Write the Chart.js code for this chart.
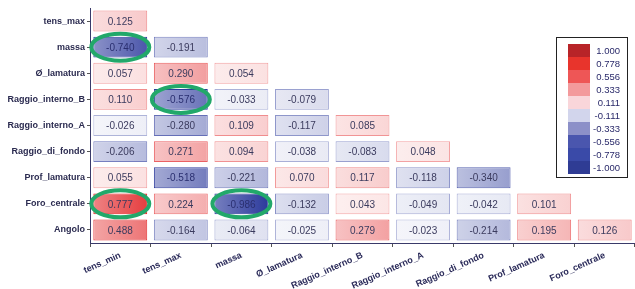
<!DOCTYPE html>
<html>
<head>
<meta charset="utf-8">
<script src="https://cdn.jsdelivr.net/npm/chart.js@4/dist/chart.umd.min.js"></script>
<style>
  html, body { margin: 0; padding: 0; background: #fff; }
  #wrap { width: 635px; height: 289px; position: relative; }
</style>
</head>
<body>
<div id="wrap"><canvas id="chart"></canvas></div>
<script>
// righe (asse y) e colonne (asse x) della matrice di correlazione
const rowLabels = ['tens_max', 'massa', 'Ø_lamatura', 'Raggio_interno_B', 'Raggio_interno_A',
  'Raggio_di_fondo', 'Prof_lamatura', 'Foro_centrale', 'Angolo'];
const colLabels = ['tens_min', 'tens_max', 'massa', 'Ø_lamatura', 'Raggio_interno_B',
  'Raggio_interno_A', 'Raggio_di_fondo', 'Prof_lamatura', 'Foro_centrale'];

const corrTensMax = [0.125];
const corrMassa = [-0.740, -0.191];
const corrLamatura = [0.057, 0.290, 0.054];
const corrRaggioB = [0.110, -0.576, -0.033, -0.079];
const corrRaggioA = [-0.026, -0.280, 0.109, -0.117, 0.085];
const corrRaggioFondo = [-0.206, 0.271, 0.094, -0.038, -0.083, 0.048];
const corrProf = [0.055, -0.518, -0.221, 0.070, 0.117, -0.118, -0.340];
const corrForo = [0.777, 0.224, -0.986, -0.132, 0.043, -0.049, -0.042, 0.101];
const corrAngolo = [0.488, -0.164, -0.064, -0.025, 0.279, -0.023, -0.214, 0.195, 0.126];
const corrRows = [corrTensMax, corrMassa, corrLamatura, corrRaggioB, corrRaggioA,
  corrRaggioFondo, corrProf, corrForo, corrAngolo];

// celle cerchiate in verde [riga, colonna]
const highlighted = [[1, 0], [3, 1], [7, 0], [7, 2]];

// legenda a scala di colori
const legendValues = ['1.000', '0.778', '0.556', '0.333', '0.111', '-0.111', '-0.333', '-0.556', '-0.778', '-1.000'];
const legendColors = ['#b82428', '#e8342c', '#ee5656', '#f39a9c', '#f9d6da', '#d2d5ec', '#8c90c8', '#4a56ae', '#3a4aa8', '#2f3c94'];

const RED = [226, 36, 38];
const BLUE = [44, 58, 156];

function mix(c, t) {
  return c.map(v => Math.round(255 + (v - 255) * t));
}
function rgb(c) { return 'rgb(' + c.join(',') + ')'; }
function cellColor(v, extra) {
  const base = v >= 0 ? RED : BLUE;
  const t = Math.min(1, Math.pow(Math.abs(v), 0.7) * 1.05 + (extra || 0));
  return mix(base, t);
}

// un dataset per riga, barre flottanti sovrapposte
const datasets = corrRows.map((vals, r) => ({
  label: rowLabels[r],
  data: colLabels.map((_, c) => c < vals.length ? [r + 0.1, r + 0.9] : null),
  grouped: false,
  barPercentage: 0.89,
  categoryPercentage: 1,
  borderWidth: 1,
  borderSkipped: false,
  borderColor: ctx => {
    const v = vals[ctx.dataIndex];
    if (v === undefined) return 'transparent';
    return rgb(cellColor(v, 0.3));
  },
  backgroundColor: ctx => {
    const v = vals[ctx.dataIndex];
    if (v === undefined) return 'transparent';
    const col = cellColor(v);
    const chart = ctx.chart;
    const xs = chart.scales.x;
    if (!xs || !chart.chartArea) return rgb(col);
    const cx = xs.getPixelForValue(ctx.dataIndex);
    const g = chart.ctx.createLinearGradient(cx - 27, 0, cx + 27, 0);
    const light = col.map(x => Math.round(x + (255 - x) * 0.35));
    g.addColorStop(0, rgb(light));
    g.addColorStop(1, rgb(col));
    return g;
  }
}));

const overlayPlugin = {
  id: 'overlay',
  afterDatasetsDraw(chart) {
    const ctx = chart.ctx;
    const xs = chart.scales.x;
    const ys = chart.scales.y;
    ctx.save();
    // valori nelle celle
    ctx.font = '10px "Liberation Sans", Arial, sans-serif';
    ctx.textAlign = 'center';
    ctx.textBaseline = 'middle';
    corrRows.forEach((vals, r) => {
      vals.forEach((v, c) => {
        ctx.fillStyle = Math.abs(v) > 0.5 && v < 0 ? '#2a2f70' : '#3b3b5e';
        ctx.fillText(v.toFixed(3), xs.getPixelForValue(c), ys.getPixelForValue(r + 0.5) + 1);
      });
    });
    // ellissi verdi
    ctx.strokeStyle = '#22a86a';
    ctx.lineWidth = 4;
    highlighted.forEach(([r, c]) => {
      ctx.beginPath();
      ctx.ellipse(xs.getPixelForValue(c), ys.getPixelForValue(r + 0.5), 29, 13.5, 0, 0, Math.PI * 2);
      ctx.stroke();
    });
    // legenda
    const lx = 556, ly = 37, lw = 71, lh = 140;
    ctx.fillStyle = '#fff';
    ctx.fillRect(lx, ly, lw, lh);
    ctx.strokeStyle = '#222';
    ctx.lineWidth = 1;
    ctx.strokeRect(lx + 0.5, ly + 0.5, lw, lh);
    const sh = 13;
    ctx.font = '9.5px "Liberation Sans", Arial, sans-serif';
    ctx.textAlign = 'right';
    legendValues.forEach((lab, i) => {
      const y = ly + 7 + i * sh;
      ctx.fillStyle = legendColors[i];
      ctx.fillRect(lx + 12, y, 22, sh);
      ctx.fillStyle = '#2a2a6a';
      ctx.fillText(lab, lx + 64, y + sh / 2 + 1);
    });
    ctx.restore();
  }
};

new Chart(document.getElementById('chart'), {
  type: 'bar',
  data: { labels: colLabels, datasets: datasets },
  options: {
    responsive: true,
    maintainAspectRatio: false,
    animation: false,
    layout: { padding: { top: 8, right: 0, left: 0, bottom: 0 } },
    plugins: { legend: { display: false }, tooltip: { enabled: false } },
    scales: {
      x: {
        type: 'category',
        offset: true,
        afterFit: s => { s.height = 46; },
        grid: { drawOnChartArea: false, tickLength: 4, color: '#555' },
        border: { color: '#3a3a6a' },
        ticks: {
          maxRotation: 24, minRotation: 24, autoSkip: false,
          color: '#2b2b5a',
          font: { family: '"Liberation Sans", Arial, sans-serif', size: 9, weight: 'bold' }
        }
      },
      y: {
        type: 'linear',
        reverse: true,
        min: 0,
        max: 9,
        afterFit: s => { s.width = 90; },
        afterBuildTicks: s => { s.ticks = rowLabels.map((_, i) => ({ value: i + 0.5 })); },
        grid: { drawOnChartArea: false, tickLength: 3, color: '#555' },
        border: { color: '#3a3a6a' },
        ticks: {
          autoSkip: false,
          padding: 2,
          color: '#2b2b50',
          font: { family: '"Liberation Sans", Arial, sans-serif', size: 9, weight: 'bold' },
          callback: (v, i) => rowLabels[i]
        }
      }
    }
  },
  plugins: [overlayPlugin]
});
</script>
</body>
</html>
